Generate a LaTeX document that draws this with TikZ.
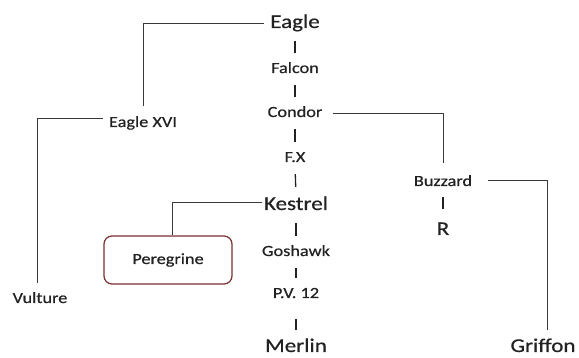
\documentclass[tikz,border=0pt]{standalone}
\usepackage{fontspec}
\setmainfont[FakeStretch=1.18, FakeBold=0.6]{Carlito}
\usepackage{xcolor}
\usepackage{tikz}
\usetikzlibrary{calc, positioning}

\definecolor{inkgray}{HTML}{222222}
\definecolor{linegray}{HTML}{3A3A3A}
\definecolor{boxred}{HTML}{7A2E2E}

\tikzset{
    bird/.style={anchor=base, inner sep=0pt, text=inkgray,
        font=\fontsize{15.5}{18}\selectfont, text height=11pt, text depth=3pt},
    bigbird/.style={bird, font=\fontsize{19.5}{23}\selectfont,
        text height=14pt, text depth=4pt},
    link/.style={draw=linegray, line width=0.9pt},
    bar/.style={draw=inkgray, line width=1.3pt, shorten <=9pt, shorten >=9pt},
    pickbox/.style={draw=boxred, line width=1.2pt, rounded corners=8pt,
        minimum width=128pt, minimum height=48pt, text=inkgray,
        font=\fontsize{15.5}{18}\selectfont}
}

\begin{document}
\begin{tikzpicture}[x=1pt, y=-1pt]
    \useasboundingbox (0,0) rectangle (579,358);

    % Cột giữa
    \node[bigbird] (eagle)   at (295,28)  {Eagle};
    \node[bird]    (falcon)  at (295,73)  {Falcon};
    \node[bird]    (condor)  at (295,117) {Condor};
    \node[bird]    (fx)      at (295,162) {F.X};
    \node[bigbird] (kestrel) at (296,210) {Kestrel};
    \node[bird]    (goshawk) at (296,256) {Goshawk};
    \node[bird]    (pv)      at (296,298) {P.V. 12};
    \node[bigbird, text depth=0pt] (merlin) at (296,352) {Merlin};

    % Nhánh
    \node[bird]    (exvi)    at (143,127) {Eagle XVI};
    \node[bird]    (vulture) at (40,303)  {Vulture};
    \node[bird]    (buzzard) at (443,186) {Buzzard};
    \node[bigbird] (r)       at (443,235) {R};
    \node[bigbird, text depth=0pt] (griffon) at (543,352) {Griffon};
    \node[pickbox] (peregrine) at (168,260) {Peregrine};

    % Vạch nối trong cột
    \draw[bar] (eagle.south) -- (falcon.north);
    \draw[bar] (falcon.south) -- (condor.north);
    \draw[bar] (condor.south) -- (fx.north);
    \draw[bar] (fx.south) -- (kestrel.north);
    \draw[bar] (kestrel.south) -- (goshawk.north);
    \draw[bar] (goshawk.south) -- (pv.north);
    \draw[bar, shorten <=18pt, shorten >=8pt] (pv.south) -- (merlin.north);
    \draw[bar, shorten <=8pt, shorten >=12pt] (buzzard.south) -- (r.north);

    % Đường gấp khúc
    \draw[link, shorten <=6pt, shorten >=10pt] (eagle.west) -| (exvi.north);
    \draw[link, shorten <=6pt, shorten >=9pt]
        ([yshift=5pt]exvi.west) -| ([xshift=-3pt]vulture.north);
    \draw[link, shorten <=10pt, shorten >=12pt] (condor.east) -| (buzzard.north);
    \draw[link, shorten <=16pt, shorten >=8pt]
        ([yshift=2pt]buzzard.east) -| ([xshift=4pt]griffon.north);
    \draw[link, shorten <=2pt]
        ([yshift=3pt]kestrel.west) -| ([xshift=4pt]peregrine.north);
\end{tikzpicture}
\end{document}
